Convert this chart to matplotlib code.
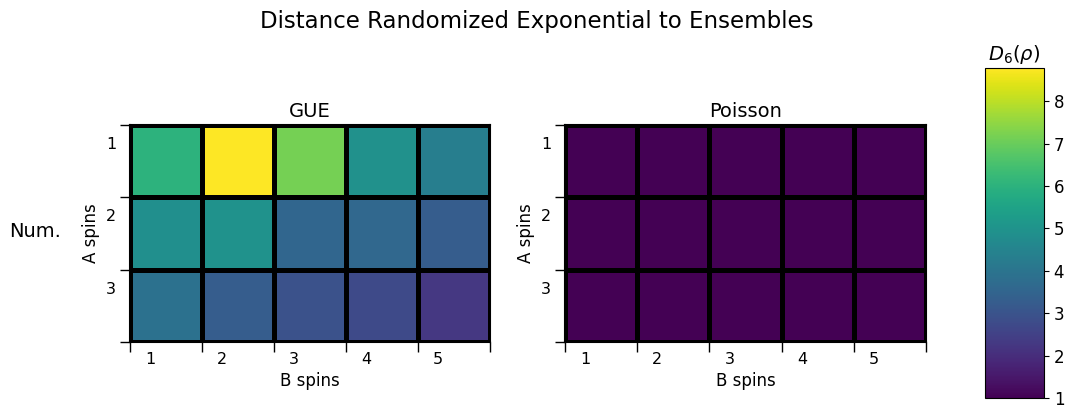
import numpy as np
import matplotlib
matplotlib.use("Agg")
import matplotlib.pyplot as plt

b_spins = [1, 2, 3, 4, 5]
a_spins = [1, 2, 3]
gue_values = [
    [6.0, 8.75, 7.15, 4.9, 4.3],
    [4.85, 4.95, 3.55, 3.6, 3.25],
    [3.9, 3.25, 2.95, 2.75, 2.25],
]
poisson_values = [
    [1.02, 1.02, 1.02, 1.02, 1.02],
    [1.02, 1.02, 1.02, 1.02, 1.02],
    [1.02, 1.02, 1.02, 1.02, 1.02],
]
titles = ["GUE", "Poisson"]
vmin, vmax = 1.0, 8.78

fig = plt.figure(figsize=(10.73, 4.09), dpi=100)
fig.suptitle("Distance Randomized Exponential to Ensembles", fontsize=16.5, y=0.975)

W, H = 1073, 409
def rect(x0, y0, x1, y1):
    return [x0 / W, 1 - y1 / H, (x1 - x0) / W, (y1 - y0) / H]

ax_rects = [rect(130, 125, 490, 342), rect(565, 125, 926, 342)]
mesh = None
for r, data, title in zip(ax_rects, [gue_values, poisson_values], titles):
    ax = fig.add_axes(r)
    arr = np.array(data)
    mesh = ax.pcolormesh(np.arange(len(b_spins) + 1), np.arange(len(a_spins) + 1), arr,
                         cmap="viridis", vmin=vmin, vmax=vmax,
                         edgecolors="black", linewidth=2.5)
    ax.set_xlim(0, len(b_spins))
    ax.set_ylim(len(a_spins), 0)
    ax.set_xticks(np.arange(len(b_spins) + 1))
    ax.set_xticklabels([])
    ax.set_yticks(np.arange(len(a_spins) + 1))
    ax.set_yticklabels([])
    ax.set_xticks(np.arange(len(b_spins)) + 0.28, minor=True)
    ax.set_xticklabels([str(v) for v in b_spins], minor=True, fontsize=11.5)
    ax.set_yticks(np.arange(len(a_spins)) + 0.25, minor=True)
    ax.set_yticklabels([str(v) for v in a_spins], minor=True, fontsize=11.5)
    ax.tick_params(which="minor", axis="x", length=0, pad=7)
    ax.tick_params(which="minor", axis="y", length=0, pad=10)
    ax.tick_params(which="major", length=7, width=1)
    ax.set_xlabel("B spins", fontsize=12)
    ax.set_ylabel("A spins", fontsize=12, labelpad=4)
    ax.set_title(title, fontsize=14, pad=6)
    for s in ax.spines.values():
        s.set_linewidth(1.5)

fig.text(35 / W, 1 - 232 / H, "Num.", fontsize=14, ha="center", va="center")

cax = fig.add_axes(rect(985, 68, 1044, 398))
cb = fig.colorbar(mesh, cax=cax)
cb.set_ticks(np.arange(1, 9))
cb.ax.tick_params(labelsize=12)
cax.set_title(r"$D_6(\rho)$", fontsize=14, pad=6)

fig.savefig("out.png", dpi=100)
